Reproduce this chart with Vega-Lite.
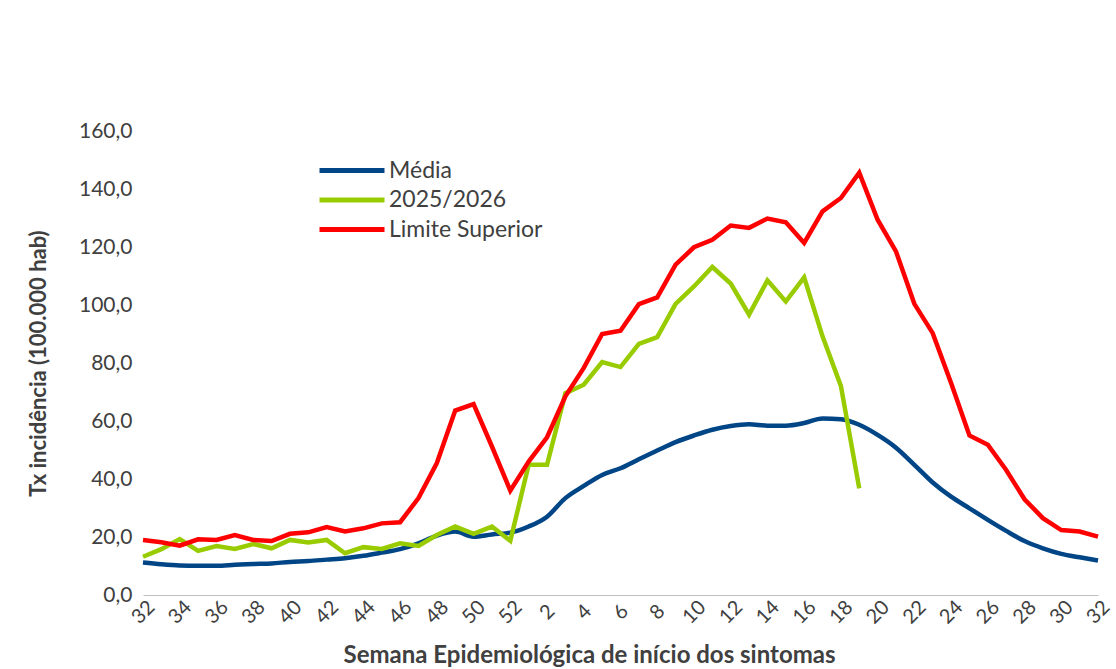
{
  "$schema": "https://vega.github.io/schema/vega-lite/v6.json",
  "width": 955,
  "height": 464,
  "autosize": "none",
  "padding": {"left": 143, "top": 131, "right": 18, "bottom": 74},
  "background": "white",
  "config": {"view": {"stroke": null}, "font": "Lato"},
  "data": {"values": [
    {"i": 0, "semana": 32, "Média": 11.2, "2025/2026": 13.2, "Limite Superior": 19.0},
    {"i": 1, "semana": 33, "Média": 10.6, "2025/2026": 15.8, "Limite Superior": 18.2},
    {"i": 2, "semana": 34, "Média": 10.2, "2025/2026": 19.3, "Limite Superior": 17.0},
    {"i": 3, "semana": 35, "Média": 10.1, "2025/2026": 15.2, "Limite Superior": 19.2},
    {"i": 4, "semana": 36, "Média": 10.1, "2025/2026": 16.9, "Limite Superior": 19.0},
    {"i": 5, "semana": 37, "Média": 10.4, "2025/2026": 15.9, "Limite Superior": 20.7},
    {"i": 6, "semana": 38, "Média": 10.7, "2025/2026": 17.6, "Limite Superior": 19.0},
    {"i": 7, "semana": 39, "Média": 10.9, "2025/2026": 16.1, "Limite Superior": 18.6},
    {"i": 8, "semana": 40, "Média": 11.4, "2025/2026": 19.0, "Limite Superior": 21.1},
    {"i": 9, "semana": 41, "Média": 11.7, "2025/2026": 18.1, "Limite Superior": 21.6},
    {"i": 10, "semana": 42, "Média": 12.2, "2025/2026": 19.0, "Limite Superior": 23.4},
    {"i": 11, "semana": 43, "Média": 12.7, "2025/2026": 14.4, "Limite Superior": 21.9},
    {"i": 12, "semana": 44, "Média": 13.5, "2025/2026": 16.5, "Limite Superior": 23.0},
    {"i": 13, "semana": 45, "Média": 14.6, "2025/2026": 15.9, "Limite Superior": 24.7},
    {"i": 14, "semana": 46, "Média": 15.8, "2025/2026": 17.8, "Limite Superior": 25.1},
    {"i": 15, "semana": 47, "Média": 17.8, "2025/2026": 16.9, "Limite Superior": 33.4},
    {"i": 16, "semana": 48, "Média": 20.5, "2025/2026": 20.7, "Limite Superior": 45.5},
    {"i": 17, "semana": 49, "Média": 21.9, "2025/2026": 23.6, "Limite Superior": 63.6},
    {"i": 18, "semana": 50, "Média": 20.1, "2025/2026": 21.1, "Limite Superior": 65.8},
    {"i": 19, "semana": 51, "Média": 20.9, "2025/2026": 23.6, "Limite Superior": 51.2},
    {"i": 20, "semana": 52, "Média": 21.5, "2025/2026": 18.7, "Limite Superior": 36.0},
    {"i": 21, "semana": 1, "Média": 23.6, "2025/2026": 44.9, "Limite Superior": 46.0},
    {"i": 22, "semana": 2, "Média": 27.0, "2025/2026": 44.9, "Limite Superior": 54.4},
    {"i": 23, "semana": 3, "Média": 33.4, "2025/2026": 69.6, "Limite Superior": 68.5},
    {"i": 24, "semana": 4, "Média": 37.6, "2025/2026": 72.5, "Limite Superior": 78.3},
    {"i": 25, "semana": 5, "Média": 41.4, "2025/2026": 80.3, "Limite Superior": 90.0},
    {"i": 26, "semana": 6, "Média": 43.7, "2025/2026": 78.6, "Limite Superior": 91.1},
    {"i": 27, "semana": 7, "Média": 46.8, "2025/2026": 86.6, "Limite Superior": 100.3},
    {"i": 28, "semana": 8, "Média": 49.8, "2025/2026": 88.9, "Limite Superior": 102.6},
    {"i": 29, "semana": 9, "Média": 52.7, "2025/2026": 100.4, "Limite Superior": 113.9},
    {"i": 30, "semana": 10, "Média": 55.0, "2025/2026": 106.4, "Limite Superior": 119.9},
    {"i": 31, "semana": 11, "Média": 57.0, "2025/2026": 113.1, "Limite Superior": 122.5},
    {"i": 32, "semana": 12, "Média": 58.3, "2025/2026": 107.4, "Limite Superior": 127.4},
    {"i": 33, "semana": 13, "Média": 58.9, "2025/2026": 96.7, "Limite Superior": 126.6},
    {"i": 34, "semana": 14, "Média": 58.4, "2025/2026": 108.5, "Limite Superior": 129.8},
    {"i": 35, "semana": 15, "Média": 58.4, "2025/2026": 101.2, "Limite Superior": 128.5},
    {"i": 36, "semana": 16, "Média": 59.3, "2025/2026": 109.5, "Limite Superior": 121.4},
    {"i": 37, "semana": 17, "Média": 60.9, "2025/2026": 89.2, "Limite Superior": 132.3},
    {"i": 38, "semana": 18, "Média": 60.6, "2025/2026": 72.1, "Limite Superior": 136.9},
    {"i": 39, "semana": 19, "Média": 58.7, "2025/2026": 36.8, "Limite Superior": 145.6},
    {"i": 40, "semana": 20, "Média": 55.2, "Limite Superior": 129.4},
    {"i": 41, "semana": 21, "Média": 50.8, "Limite Superior": 118.5},
    {"i": 42, "semana": 22, "Média": 44.9, "Limite Superior": 100.4},
    {"i": 43, "semana": 23, "Média": 38.8, "Limite Superior": 90.3},
    {"i": 44, "semana": 24, "Média": 33.9, "Limite Superior": 73.1},
    {"i": 45, "semana": 25, "Média": 29.9, "Limite Superior": 55.0},
    {"i": 46, "semana": 26, "Média": 25.9, "Limite Superior": 51.8},
    {"i": 47, "semana": 27, "Média": 22.1, "Limite Superior": 43.1},
    {"i": 48, "semana": 28, "Média": 18.6, "Limite Superior": 33.0},
    {"i": 49, "semana": 29, "Média": 16.1, "Limite Superior": 26.5},
    {"i": 50, "semana": 30, "Média": 14.2, "Limite Superior": 22.4},
    {"i": 51, "semana": 31, "Média": 13.0, "Limite Superior": 21.9},
    {"i": 52, "semana": 32, "Média": 11.9, "Limite Superior": 20.1}
  ]},
  "transform": [
    {"fold": ["Média", "2025/2026", "Limite Superior"], "as": ["serie", "valor"]},
    {"filter": "isValid(datum.valor)"}
  ],
  "encoding": {
    "x": {
      "field": "i", "type": "quantitative",
      "scale": {"domain": [0, 52], "nice": false, "zero": false},
      "axis": {
        "values": [0, 2, 4, 6, 8, 10, 12, 14, 16, 18, 20, 22, 24, 26, 28, 30, 32, 34, 36, 38, 40, 42, 44, 46, 48, 50, 52],
        "labelExpr": "datum.value <= 20 ? '' + (datum.value + 32) : '' + (datum.value - 20)",
        "labelAngle": -45, "labelAlign": "center", "labelBaseline": "middle",
        "labelPadding": 17, "labelFontSize": 20, "labelColor": "#404040",
        "ticks": false, "grid": false, "domainColor": "#BFBFBF", "domainWidth": 1,
        "title": "Semana Epidemiológica de início dos sintomas",
        "titleFontSize": 24, "titleFontWeight": "bold", "titleColor": "#404040",
        "titleX": 446, "titleY": 60, "titleAlign": "center", "titleBaseline": "middle"
      }
    },
    "y": {
      "field": "valor", "type": "quantitative",
      "scale": {"domain": [0, 160], "nice": false},
      "axis": {
        "values": [0, 20, 40, 60, 80, 100, 120, 140, 160],
        "labelExpr": "replace(format(datum.value, '.1f'), '.', ',')",
        "domain": false, "ticks": false, "grid": false,
        "labelFontSize": 21, "labelColor": "#404040", "labelPadding": 11,
        "title": "Tx incidência (100.000 hab)",
        "titleFontSize": 22, "titleFontWeight": "bold", "titleColor": "#404040",
        "titleX": -105, "titleY": 232, "titleAlign": "center", "titleBaseline": "middle", "titleAngle": -90
      }
    },
    "color": {
      "field": "serie", "type": "nominal",
      "scale": {"domain": ["Média", "2025/2026", "Limite Superior"], "range": ["#004586", "#99CC00", "#FF0000"]},
      "legend": {
        "orient": "none", "legendX": 174, "legendY": 27, "title": null,
        "symbolType": "M-1,0H5.5", "symbolSize": 400, "symbolStrokeWidth": 5,
        "labelFontSize": 23, "labelColor": "#404040", "labelOffset": 47,
        "rowPadding": 4.5, "padding": 0
      }
    }
  },
  "layer": [
    {"transform": [{"filter": "datum.serie == 'Média'"}], "mark": {"type": "line", "interpolate": "monotone", "strokeWidth": 4.5}},
    {"transform": [{"filter": "datum.serie != 'Média'"}], "mark": {"type": "line", "strokeWidth": 4.5}}
  ]
}
